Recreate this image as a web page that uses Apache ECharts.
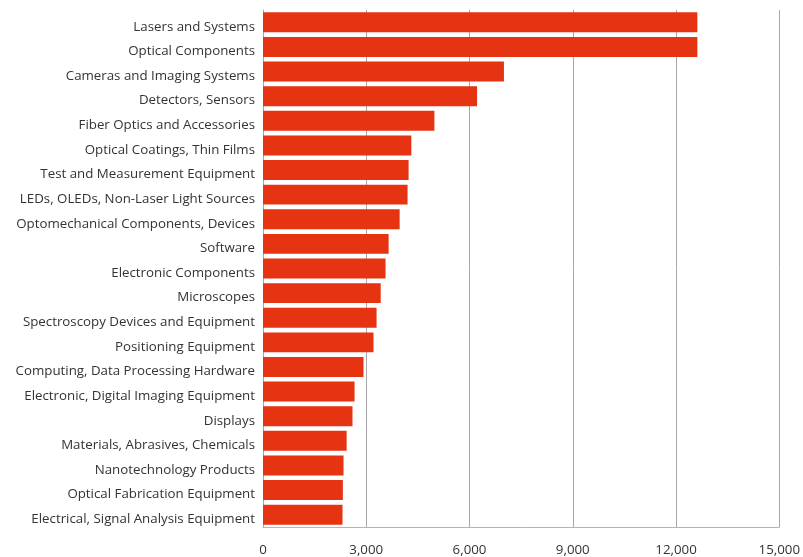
<!DOCTYPE html>
<html><head><meta charset="utf-8">
<script src="https://cdn.jsdelivr.net/npm/echarts@6/dist/echarts.min.js"></script>
<style>html,body{margin:0;padding:0;background:#fff}#c{width:803px;height:557px}</style>
</head><body><div id="c"></div>
<script>
const categories = [
  "Lasers and Systems","Optical Components","Cameras and Imaging Systems","Detectors, Sensors",
  "Fiber Optics and Accessories","Optical Coatings, Thin Films","Test and Measurement Equipment",
  "LEDs, OLEDs, Non-Laser Light Sources","Optomechanical Components, Devices","Software",
  "Electronic Components","Microscopes","Spectroscopy Devices and Equipment","Positioning Equipment",
  "Computing, Data Processing Hardware","Electronic, Digital Imaging Equipment","Displays",
  "Materials, Abrasives, Chemicals","Nanotechnology Products","Optical Fabrication Equipment",
  "Electrical, Signal Analysis Equipment"
];
const values = [12620,12620,7000,6220,4980,4310,4230,4200,3970,3650,3560,3420,3300,3210,2920,2660,2600,2430,2340,2320,2310];
const xTicks = {min:0, max:15000, interval:3000};

const chart = echarts.init(document.getElementById('c'));
chart.setOption({
  animation:false,
  grid:{left:263, right:22, top:10, bottom:30, containLabel:false},
  xAxis:{type:'value', min:xTicks.min, max:xTicks.max, interval:xTicks.interval,
    axisLine:{show:true, lineStyle:{color:'#b5b5b5', width:1}},
    axisTick:{show:false},
    splitLine:{show:true, lineStyle:{color:'#a8a8a8', width:1}},
    axisLabel:{color:'#333', fontSize:13.3, fontFamily:'Open Sans', margin:17,
      formatter:v=>v.toLocaleString('en-US')}},
  yAxis:{type:'category', data:categories, inverse:true,
    axisLine:{show:true, lineStyle:{color:'#a8a8a8', width:1}},
    axisTick:{show:false},
    axisLabel:{color:'#333', fontSize:13.3, fontFamily:'Open Sans', margin:8,
      formatter:v=>'{a|'+v+'}',
      rich:{a:{color:'#333', fontSize:13.3, fontFamily:'Open Sans', padding:[9,0,0,0]}}}},
  series:[{type:'bar', data:values, barCategoryGap:'19%',
    itemStyle:{color:'#E63312'}}]
});
</script></body></html>
